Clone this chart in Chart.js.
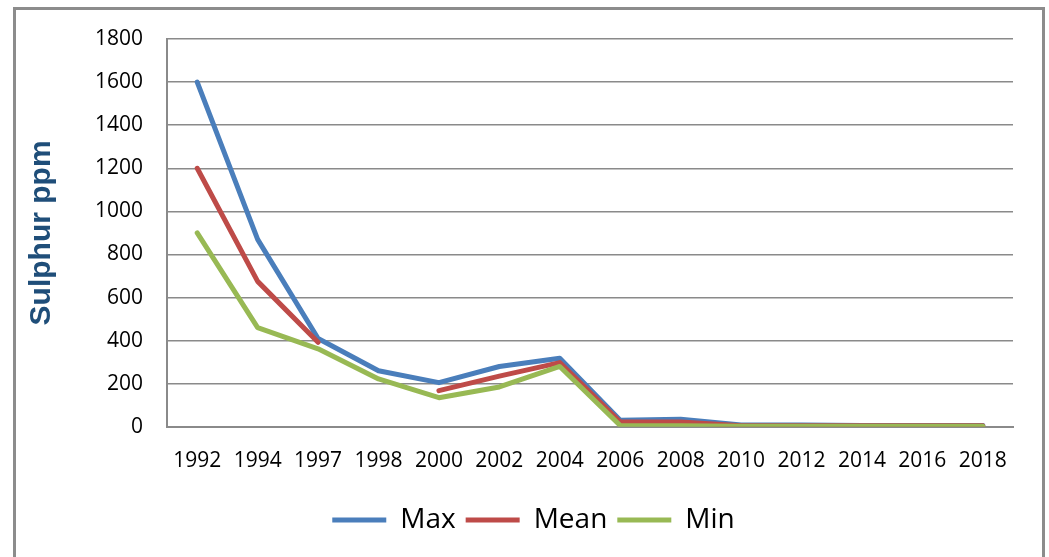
<!DOCTYPE html>
<html>
<head>
<meta charset="utf-8">
<script src="https://cdn.jsdelivr.net/npm/chart.js@4"></script>
<style>
  html, body { margin: 0; padding: 0; background: #fff; overflow: hidden; }
  #wrap { position: relative; width: 1049px; height: 557px; }
  #frame {
    position: absolute; left: 13px; top: 7px; width: 1032px; height: 600px;
    box-sizing: border-box; border: 3px solid #8c8c8c; pointer-events: none;
  }
  canvas { position: absolute; left: 0; top: 0; }
</style>
</head>
<body>
<div id="wrap">
  <canvas id="sulphur-chart" width="1049" height="557"></canvas>
  <div id="frame"></div>
</div>
<script>
var years = ['1992', '1994', '1997', '1998', '2000', '2002', '2004', '2006', '2008', '2010', '2012', '2014', '2016', '2018'];
var maxValues = [1600, 870, 410, 260, 205, 280, 318, 30, 35, 8, 8, 6, 6, 6];
var meanValues = [1200, 675, 392, null, 168, 235, 298, 22, 22, 5, 5, 5, 5, 5];
var minValues = [900, 460, 362, 222, 135, 185, 280, 6, 5, 3, 3, 3, 3, 3];

var gridColor = '#8a8a8a';
var tickFont = { family: 'Open Sans', size: 21 };

function series(label, data, color, order) {
  return {
    label: label,
    data: data,
    borderColor: color,
    backgroundColor: color,
    borderWidth: 5,
    borderCapStyle: 'round',
    borderJoinStyle: 'round',
    pointRadius: 0,
    tension: 0,
    spanGaps: false,
    order: order
  };
}

// legend in the original sits a bit right of the plot centre
var legendShift = {
  id: 'legendShift',
  afterLayout: function(chart) {
    chart.legend.left += 15;
    chart.legend.right += 15;
  }
};

var ctx = document.getElementById('sulphur-chart');
var sulphurChart = new Chart(ctx, {
  type: 'line',
  data: {
    labels: years,
    datasets: [
      series('Max', maxValues, '#4a7ebb', 3),
      series('Mean', meanValues, '#be4b48', 2),
      series('Min', minValues, '#98b954', 1)
    ]
  },
  plugins: [legendShift],
  options: {
    responsive: false,
    animation: false,
    layout: { padding: { left: 24, top: 39, right: 36, bottom: 13 } },
    plugins: {
      tooltip: { enabled: false },
      legend: {
        position: 'bottom',
        labels: {
          usePointStyle: true,
          pointStyle: 'line',
          pointStyleWidth: 54,
          color: '#000',
          font: { family: 'Open Sans', size: 28 },
          padding: 10,
          sort: function(a, b) { return a.datasetIndex - b.datasetIndex; }
        }
      }
    },
    scales: {
      x: {
        offset: true,
        grid: { display: false, drawTicks: false },
        border: { display: true, color: gridColor, width: 2 },
        ticks: { color: '#000', font: tickFont, padding: 22, maxRotation: 0, autoSkip: false }
      },
      y: {
        min: 0,
        max: 1800,
        ticks: {
          stepSize: 200, color: '#000', font: tickFont, padding: 24,
          callback: function(v) { return String(v); }
        },
        grid: { color: gridColor, lineWidth: 1.5, drawTicks: false },
        border: { display: true, color: gridColor, width: 2 },
        title: {
          display: true,
          text: 'Sulphur ppm',
          color: '#1f4e79',
          font: { family: 'Liberation Sans', size: 30, weight: 'bold' },
          padding: { top: 0, bottom: 8 }
        },
        afterFit: function(scale) { scale.width = 143; }
      }
    }
  }
});
</script>
</body>
</html>
